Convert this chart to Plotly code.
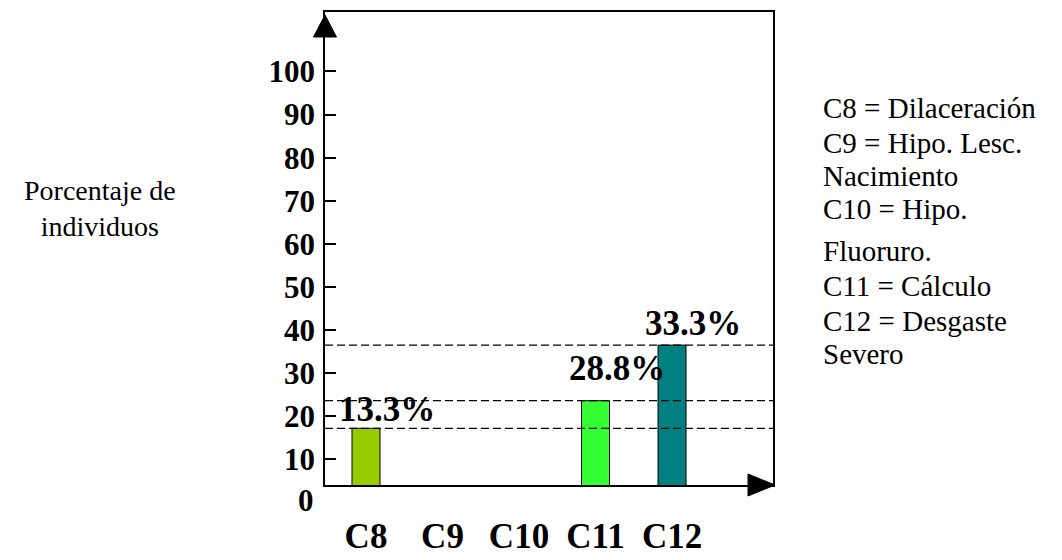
import plotly.graph_objects as go

# ---- data ----
categories = ["C8", "C9", "C10", "C11", "C12"]
bar_values = [17.2, None, None, 23.6, 36.5]          # bar heights read on the y scale
bar_labels = ["13.3%", None, None, "28.8%", "33.3%"]  # printed labels
bar_colors = ["#99CC00", "#FFFFFF", "#FFFFFF", "#33FF33", "#008080"]
y_tick_values = [10, 20, 30, 40, 50, 60, 70, 80, 90, 100]
y_tick_labels = ["10", "20", "30", "40", "50", "60", "70", "80", "90", "100"]
y_title = "Porcentaje de<br>individuos"
legend_lines = ["C8 = Dilaceración", "C9 = Hipo. Lesc.", "Nacimiento", "C10 = Hipo.",
                "Fluoruro.", "C11 = Cálculo", "C12 = Desgaste", "Severo"]

# ---- style / layout ----
FONT = "Liberation Serif, Times New Roman, serif"
OFF = 8  # browser body margin
W, H = 1062 - OFF, 560 - OFF
ML, MT = 325 - OFF, 12 - OFF
PW, PH = 448, 473
MR, MB = W - ML - PW, H - MT - PH
Y_RANGE = [4.04, 113.8]
X_RANGE = [-0.536, 5.32]
label_yshift = [-3, 0, 0, 11, 0]
legend_baselines_px = [117, 152, 185, 218, 260, 295, 330, 363]

fig = go.Figure()
fig.add_trace(go.Bar(
    x=categories, y=bar_values, width=0.366,
    marker=dict(color=bar_colors, line=dict(color="black", width=1)),
    hoverinfo="skip", showlegend=False,
))

def px_to_paper_x(px):
    return (px - OFF - ML) / PW

def px_to_paper_y(py):
    return (MT + PH - (py - OFF)) / PH

annotations = []
# value labels
for cat, v, lab, ys in zip(categories, bar_values, bar_labels, label_yshift):
    if v is None or lab is None:
        continue
    annotations.append(dict(x=cat, y=v, xref="x", yref="y", text=lab, showarrow=False,
                            xanchor="center", yanchor="bottom", xshift=21, yshift=ys,
                            font=dict(family=FONT, size=35, color="black", weight="bold")))
# "0" tick label below the axis line
annotations.append(dict(x=px_to_paper_x(316), y=(0 - Y_RANGE[0]) / (Y_RANGE[1] - Y_RANGE[0]),
                        xref="paper", yref="paper", text="0", showarrow=False,
                        xanchor="right", yanchor="middle", yshift=2,
                        font=dict(family=FONT, size=31, color="black", weight="bold")))
# y title
annotations.append(dict(x=px_to_paper_x(100), y=px_to_paper_y(208), xref="paper", yref="paper",
                        text=y_title, showarrow=False, xanchor="center", yanchor="middle",
                        align="center", font=dict(family=FONT, size=28, color="black")))
# legend text
for line, bl in zip(legend_lines, legend_baselines_px):
    annotations.append(dict(x=px_to_paper_x(821), y=px_to_paper_y(bl - 9), xref="paper", yref="paper",
                            text=line, showarrow=False, xanchor="left", yanchor="middle",
                            font=dict(family=FONT, size=29, color="black")))

shapes = []
# dashed reference lines at bar heights
for v in bar_values:
    if v is None:
        continue
    shapes.append(dict(type="line", xref="paper", yref="y", x0=0, x1=1, y0=v, y1=v,
                       line=dict(color="black", width=1.3, dash="8px,4px"), layer="above"))
# arrow heads
ax = 11.5 / PW
shapes.append(dict(type="path", xref="paper", yref="paper",
                   path=f"M {-ax} {px_to_paper_y(37)} L 0 {px_to_paper_y(15)} L {ax} {px_to_paper_y(37)} Z",
                   fillcolor="black", line=dict(color="black", width=1)))
ay = 11 / PH
shapes.append(dict(type="path", xref="paper", yref="paper",
                   path=f"M {px_to_paper_x(748)} {ay} L {px_to_paper_x(775)} 0 L {px_to_paper_x(748)} {-ay} Z",
                   fillcolor="black", line=dict(color="black", width=1)))

fig.update_layout(
    width=W, height=H,
    margin=dict(l=ML, r=MR, t=MT, b=MB, pad=0, autoexpand=False),
    paper_bgcolor="white", plot_bgcolor="white",
    font=dict(family=FONT, color="black"),
    showlegend=False,
    annotations=annotations, shapes=shapes,
    xaxis=dict(type="category", range=X_RANGE, showgrid=False, zeroline=False, automargin=False,
               showline=True, linecolor="black", linewidth=1.5, mirror=True,
               ticks="", ticklabelstandoff=19,
               tickfont=dict(family=FONT, size=35, color="black", weight="bold")),
    yaxis=dict(range=Y_RANGE, showgrid=False, zeroline=False, automargin=False,
               showline=True, linecolor="black", linewidth=1.5, mirror=True,
               tickmode="array", tickvals=y_tick_values, ticktext=y_tick_labels,
               ticks="inside", ticklen=11, tickwidth=1.5, tickcolor="black",
               ticklabelstandoff=2,
               tickfont=dict(family=FONT, size=31, color="black", weight="bold")),
)

fig.write_html("out.html")
